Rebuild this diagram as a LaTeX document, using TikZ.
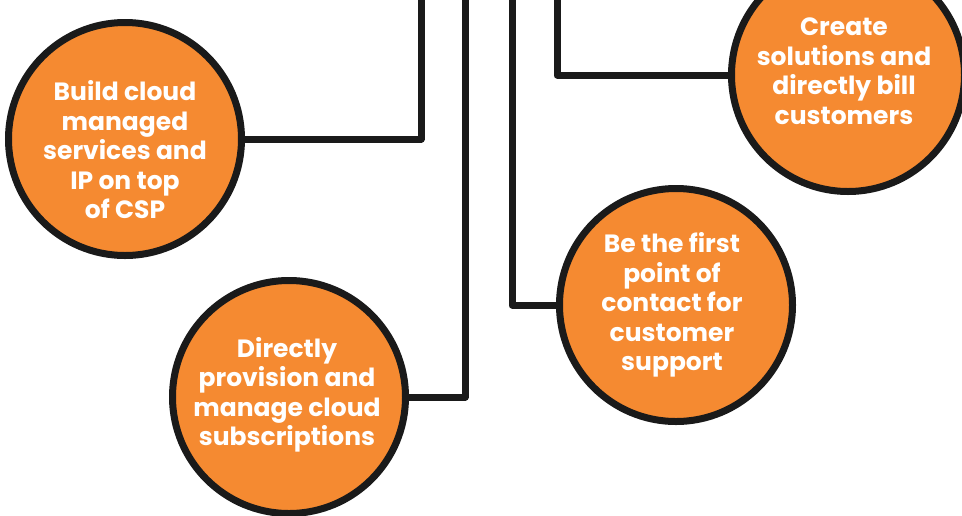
\documentclass[tikz,border=0pt]{standalone}
\usepackage{fontspec}
\setmainfont{Poppins}
\definecolor{orng}{HTML}{F58A31}
\definecolor{ink}{HTML}{1A1A1A}
\begin{document}
\begin{tikzpicture}[x=1pt,y=-1pt,
  bubble/.style={circle,draw=ink,fill=orng,line width=7pt,minimum size=233pt,inner sep=0pt},
  lbl/.style={text=white,align=center,font=\bfseries\fontsize{25}{29.5}\selectfont,inner sep=0pt},
  conn/.style={draw=ink,line width=7pt,line join=round}]
\useasboundingbox (0,0) rectangle (962,515);
\clip (0,0) rectangle (962,515);
\coordinate (t1) at (421,-10);
\coordinate (t2) at (465,-10);
\coordinate (t3) at (512,-10);
\coordinate (t4) at (557,-10);
\node[bubble] (c1) at (125,139) {};
\node[bubble] (c2) at (289,397) {};
\node[bubble] (c3) at (676,305) {};
\node[bubble] (c4) at (848,75) {};
\draw[conn] (c1.east) -| (t1);
\draw[conn] (c2.east) -| (t2);
\draw[conn] (c3.west) -| (t3);
\draw[conn] (c4.west) -| (t4);
\node[lbl] (l1) at ([yshift=-11pt]c1.center) {Build cloud\\managed\\services and\\IP on top\\of CSP};
\node[lbl] (l2) at ([xshift=-2pt,yshift=2pt]c2.center) {Directly\\provision and\\manage cloud\\subscriptions};
\node[lbl] (l3) at ([xshift=-4pt]c3.center) {Be the first\\point of\\contact for\\customer\\support};
\node[lbl] (l4) at ([xshift=-4pt,yshift=4pt]c4.center) {Create\\solutions and\\directly bill\\customers};
\end{tikzpicture}
\end{document}
